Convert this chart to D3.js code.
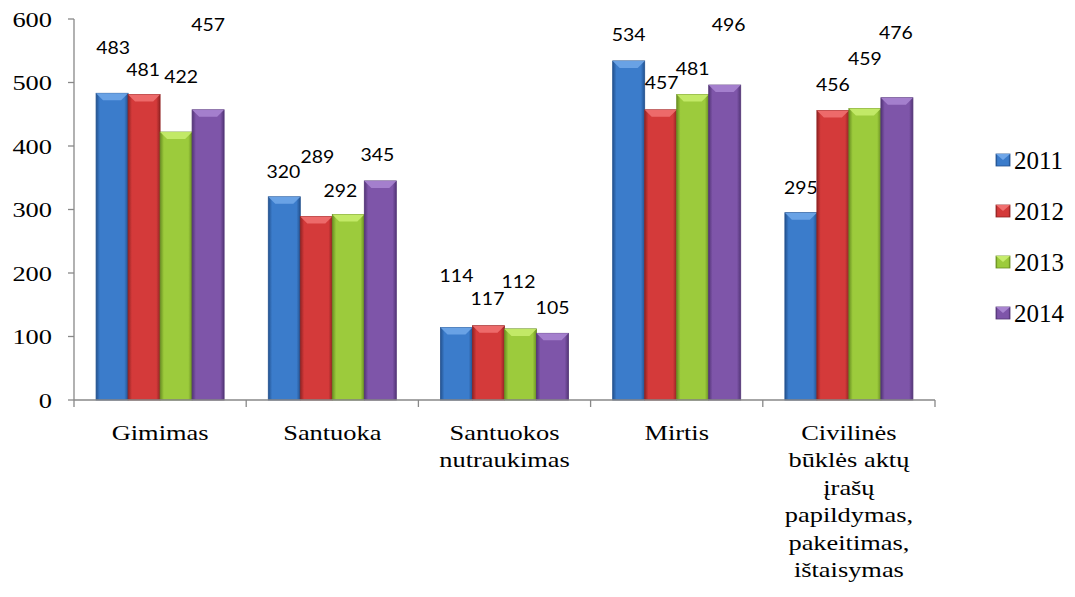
<!DOCTYPE html>
<html>
<head>
<meta charset="utf-8">
<script src="https://cdn.jsdelivr.net/npm/d3@7"></script>
<style>
  body { margin: 0; background: #fff; }
  svg { display: block; }
</style>
</head>
<body>
<svg></svg>
<script>
// chart data
var categories = ["Gimimas", "Santuoka", "Santuokos nutraukimas", "Mirtis",
    "Civilinės būklės aktų įrašų papildymas, pakeitimas, ištaisymas"];
var categoryLines = [
    ["Gimimas"],
    ["Santuoka"],
    ["Santuokos", "nutraukimas"],
    ["Mirtis"],
    ["Civilinės", "būklės aktų", "įrašų", "papildymas,", "pakeitimas,", "ištaisymas"]
];
var years = ["2011", "2012", "2013", "2014"];
var v2011 = [483, 320, 114, 534, 295];
var v2012 = [481, 289, 117, 457, 456];
var v2013 = [422, 292, 112, 481, 459];
var v2014 = [457, 345, 105, 496, 476];
var yTicks = [0, 100, 200, 300, 400, 500, 600];

// label nudges (dx, dy from bar top) - the labels were dragged by hand in the original
var labelNudge = [
    [[1, -46], [-1, -25], [5, -55], [0, -85]],
    [[-1, -25], [1, -60], [-8, -24], [-3, -26]],
    [[0, -52], [-1, -27], [-2, -47], [0, -26]],
    [[0, -26], [1, -27], [0, -26], [4, -60]],
    [[0, -25], [0, -26], [0, -50], [-1, -65]]
];

var colors = ["#3b7ccb", "#d43a3a", "#9ccb3c", "#7e55a9"];
var darks = ["#23528f", "#922323", "#6a8f22", "#533577"];
var lights = ["#6fa6e8", "#f07070", "#c6ec6c", "#a884d0"];

var SERIF = "Liberation Serif";
var SANS = "Lato";

var width = 1075, height = 597;
var margin = { left: 74, top: 19 };
var xEnd = 935;

var svg = d3.select("svg")
    .attr("width", width)
    .attr("height", height);

var series = [v2011, v2012, v2013, v2014];

var x = d3.scaleBand()
    .domain(categories)
    .range([margin.left, xEnd]);

var x1 = d3.scaleBand()
    .domain(years)
    .range([0, x.bandwidth()])
    .paddingOuter(0.69);

var y = d3.scaleLinear()
    .domain([0, 600])
    .range([400, margin.top]);

// gradients
var defs = svg.append("defs");
years.forEach(function (yr, i) {
    var g = defs.append("linearGradient")
        .attr("id", "grad" + i)
        .attr("x1", "0").attr("x2", "1").attr("y1", "0").attr("y2", "0");
    g.append("stop").attr("offset", "0").attr("stop-color", darks[i]);
    g.append("stop").attr("offset", "0.12").attr("stop-color", colors[i]);
    g.append("stop").attr("offset", "0.88").attr("stop-color", colors[i]);
    g.append("stop").attr("offset", "1").attr("stop-color", darks[i]);
});

// text stretched a bit wider, like the original picture
function stretched(sel, px, py, sx) {
    return sel.attr("transform", "translate(" + px + "," + py + ") scale(" + sx + ",1)");
}

// y axis
var yAxis = svg.append("g");
yAxis.append("line")
    .attr("x1", margin.left).attr("x2", margin.left)
    .attr("y1", y(600)).attr("y2", y(0))
    .attr("stroke", "#888").attr("stroke-width", 1.3);
yAxis.selectAll("line.tick")
    .data(yTicks)
    .enter().append("line")
    .attr("class", "tick")
    .attr("x1", margin.left - 6).attr("x2", margin.left)
    .attr("y1", (d) => y(d)).attr("y2", (d) => y(d))
    .attr("stroke", "#888").attr("stroke-width", 1.3);
yTicks.forEach(function (d) {
    var t = yAxis.append("text")
        .attr("font-family", SERIF)
        .attr("dy", "0.35em")
        .attr("text-anchor", "end")
        .attr("font-size", 22)
        .text(d);
    stretched(t, margin.left - 22, y(d), 1.2);
});

// bars
categories.forEach(function (cat, ci) {
    var g = svg.append("g").attr("transform", "translate(" + x(cat) + ",0)");
    series.forEach(function (vals, si) {
        var bx = x1(years[si]);
        var bw = x1.bandwidth();
        var top = y(vals[ci]);
        var h = y(0) - top;
        g.append("rect")
            .attr("x", bx).attr("y", top)
            .attr("width", bw).attr("height", h)
            .attr("fill", "url(#grad" + si + ")")
            .attr("stroke", darks[si]).attr("stroke-width", 0.8);
        // top bevel
        var bev = Math.min(7, h / 2);
        g.append("path")
            .attr("d", "M" + bx + "," + top + " L" + (bx + bw) + "," + top +
                " L" + (bx + bw - 7) + "," + (top + bev) + " L" + (bx + 7) + "," + (top + bev) + "Z")
            .attr("fill", lights[si]).attr("opacity", 0.9);
        // label
        var nd = labelNudge[ci][si];
        var t = g.append("text")
            .attr("font-family", SANS)
            .attr("dy", "0.35em")
            .attr("text-anchor", "middle")
            .attr("font-size", 18)
            .attr("fill", "#000")
            .text(vals[ci]);
        stretched(t, bx + bw / 2 + nd[0], top + nd[1], 1.08);
    });
});

// x axis
var xAxis = svg.append("g");
xAxis.append("line")
    .attr("x1", margin.left).attr("x2", xEnd)
    .attr("y1", y(0)).attr("y2", y(0))
    .attr("stroke", "#888").attr("stroke-width", 1.3);
var bounds = categories.map((c) => x(c)).concat([xEnd]);
xAxis.selectAll("line.tick")
    .data(bounds)
    .enter().append("line")
    .attr("class", "tick")
    .attr("x1", (d) => d).attr("x2", (d) => d)
    .attr("y1", y(0)).attr("y2", y(0) + 7)
    .attr("stroke", "#888").attr("stroke-width", 1.3);

categories.forEach(function (cat, ci) {
    categoryLines[ci].forEach(function (ln, li) {
        var t = xAxis.append("text")
            .attr("font-family", SERIF)
            .attr("text-anchor", "middle")
            .attr("dy", "0.35em")
            .attr("font-size", 22)
            .text(ln);
        stretched(t, x(cat) + x.bandwidth() / 2, 432 + li * 27.5, 1.2);
    });
});

// legend
var legend = svg.append("g");
years.forEach(function (yr, i) {
    var ly = 160 + i * 51;
    legend.append("rect")
        .attr("x", 996).attr("y", ly - 6)
        .attr("width", 14).attr("height", 12)
        .attr("fill", "url(#grad" + i + ")")
        .attr("stroke", darks[i]).attr("stroke-width", 0.8);
    legend.append("path")
        .attr("d", "M996," + (ly - 6) + " L1010," + (ly - 6) + " L1003," + ly + "Z")
        .attr("fill", lights[i]);
    legend.append("text")
        .attr("font-family", SERIF)
        .attr("x", 1014).attr("y", ly)
        .attr("dy", "0.35em")
        .attr("font-size", 25)
        .text(yr);
});
</script>
</body>
</html>
